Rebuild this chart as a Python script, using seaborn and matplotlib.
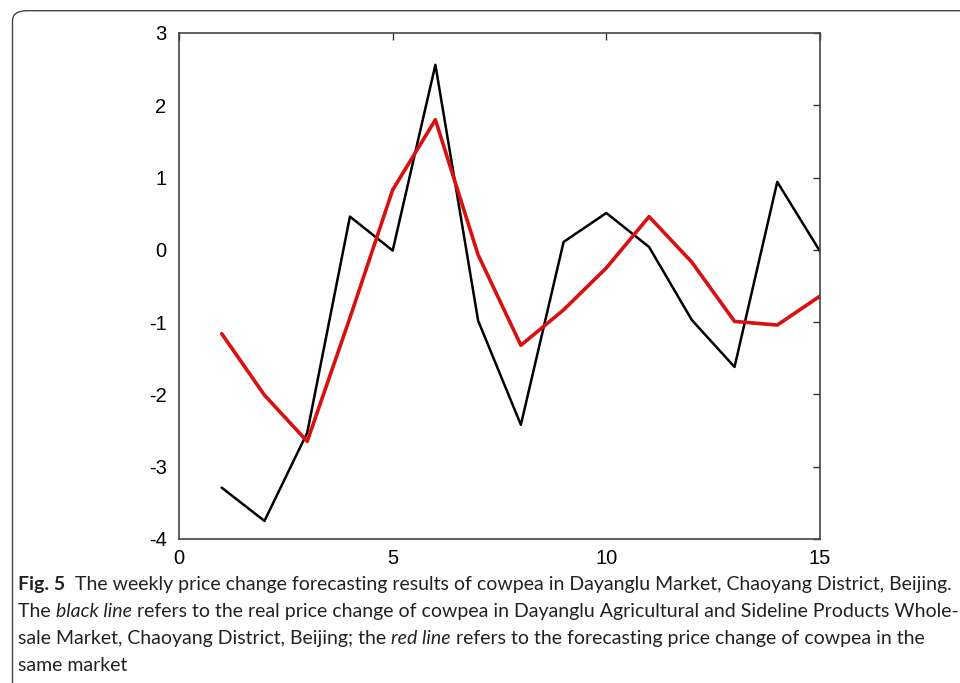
import matplotlib
matplotlib.use("Agg")
import matplotlib.pyplot as plt
import seaborn as sns
import pandas as pd
from matplotlib.patches import FancyBboxPatch

weeks = list(range(1, 16))
real_change = [-3.29, -3.75, -2.53, 0.46, -0.01, 2.56, -0.98, -2.42, 0.11, 0.51, 0.04, -0.97, -1.62, 0.94, -0.02]
forecast_change = [-1.16, -2.01, -2.65, -0.94, 0.83, 1.80, -0.07, -1.32, -0.83, -0.25, 0.46, -0.17, -0.99, -1.04, -0.64]
x_ticks = [0, 5, 10, 15]
y_ticks = [-4, -3, -2, -1, 0, 1, 2, 3]

caption_lines = [
    [("Fig. 5", "bold"), ("  The weekly price change forecasting results of cowpea in Dayanglu Market, Chaoyang District, Beijing.", "normal")],
    [("The ", "normal"), ("black line", "italic"), (" refers to the real price change of cowpea in Dayanglu Agricultural and Sideline Products Whole-", "normal")],
    [("sale Market, Chaoyang District, Beijing; the ", "normal"), ("red line", "italic"), (" refers to the forecasting price change of cowpea in the", "normal")],
    [("same market", "normal")],
]

sns.set_theme(style="white")
plt.rcParams['font.family'] = ['Liberation Sans', 'DejaVu Sans']
plt.rcParams['axes.unicode_minus'] = False

cap_font = 'Lato'
tick_font = 'Liberation Sans'

df = pd.DataFrame({
    "week": weeks * 2,
    "change": real_change + forecast_change,
    "series": ["real"] * len(weeks) + ["forecast"] * len(weeks),
})

fig = plt.figure(figsize=(9.6, 6.83), dpi=100)
ax = fig.add_axes([179/960, 1-539/683, (820-179)/960, (539-33)/683])

sns.lineplot(data=df[df.series == "real"], x="week", y="change", color="black", lw=1.8, ax=ax)
sns.lineplot(data=df[df.series == "forecast"], x="week", y="change", color="#d81010", lw=2.6, ax=ax)

ax.set_xlim(0, 15)
ax.set_ylim(-4, 3)
ax.set_xticks(x_ticks)
ax.set_yticks(y_ticks)
ax.set_xticklabels([str(v) for v in x_ticks], fontfamily=tick_font, fontsize=14.5, color="black")
ax.set_yticklabels([str(v) for v in y_ticks], fontfamily=tick_font, fontsize=14.5, color="black")
ax.set_xlabel("")
ax.set_ylabel("")
ax.tick_params(direction="in", length=5, width=1, colors="#333333", top=True, right=True,
               labelcolor="black")
ax.tick_params(axis="y", pad=9)
ax.tick_params(axis="x", pad=7)
for s in ax.spines.values():
    s.set_color("#444444")
    s.set_linewidth(1.2)
    s.set_visible(True)

# rounded figure frame
frame = FancyBboxPatch((12.5/960, -0.1), 1.2, 1.1 - 10.7/683,
                       boxstyle="round,pad=0,rounding_size=0.015",
                       transform=fig.transFigure, fill=False, edgecolor="#444444", lw=1.0)
frame.set_clip_on(False)
fig.patches.append(frame)

# caption
fig.canvas.draw()
renderer = fig.canvas.get_renderer()

def draw_runs(runs, x, ypix, size):
    texts = []
    for txt, style in runs:
        kw = dict(fontsize=size, family=cap_font, va="baseline", ha="left", color="#222222")
        if style == "bold":
            kw["weight"] = "bold"
        if style == "italic":
            kw["style"] = "italic"
        t = fig.text(x/960, 1 - ypix/683, txt, **kw)
        bb = t.get_window_extent(renderer=renderer)
        x += bb.width
        texts.append(t)
    return x, texts

# size chosen so the widest line spans the same width as in the reference
base = 13.0
end, tmp = draw_runs(caption_lines[1], 18, 0, base)
for t in tmp:
    t.remove()
size = base * (955 - 18) / (end - 18)

baselines = [590, 617, 644, 671]
for runs, yb in zip(caption_lines, baselines):
    draw_runs(runs, 18, yb, size)

fig.savefig("out.png", dpi=100)
